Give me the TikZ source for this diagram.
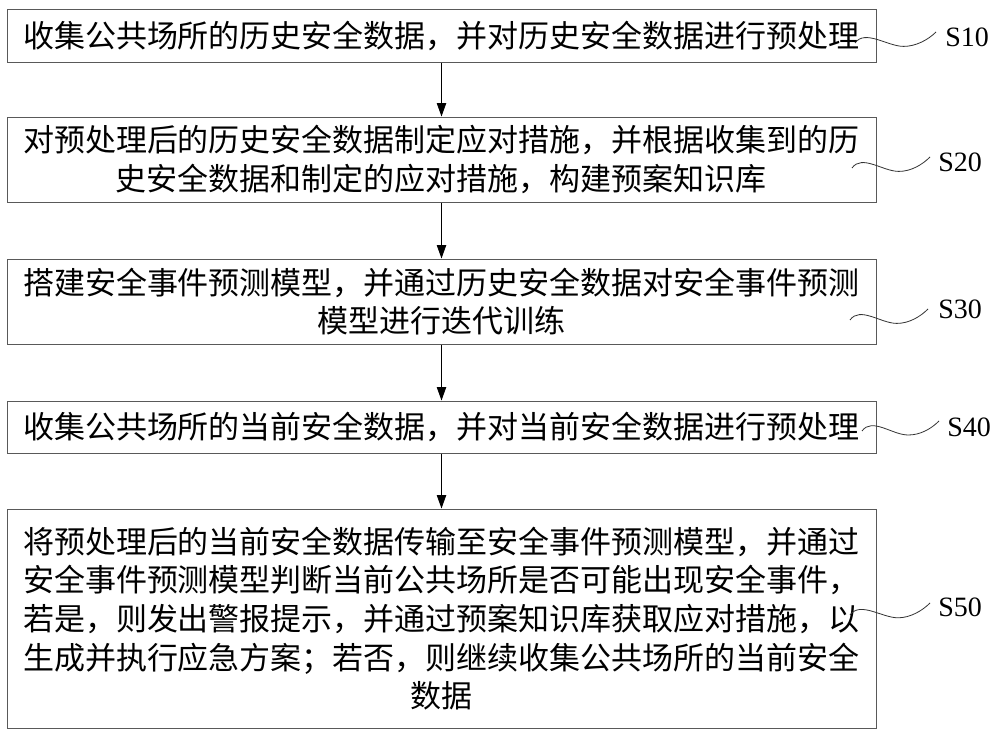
\documentclass[tikz,border=0pt]{standalone}
\usepackage{fontspec}
\setmainfont{Liberation Serif}
\newfontfamily\cjk{Noto Sans CJK SC}
\usetikzlibrary{arrows.meta,calc}
\newcommand{\squig}[2]{\draw[squigline] (#1) .. controls ($(#1)+(10,-14)$) and ($(#1)!0.6!(#2)+(-16,10)$) .. ($(#1)!0.6!(#2)+(0,10)$) .. controls ($(#1)!0.6!(#2)+(12,10)$) and ($(#2)+(-8,8)$) .. (#2);}
\begin{document}
\begin{tikzpicture}[x=0.75pt,y=-0.75pt,
  stepbox/.style={draw=black!65, line width=0.75pt, minimum width=651.75pt, inner sep=0pt,
    align=center, font=\cjk\fontsize{23.25pt}{29pt}\selectfont},
  lab/.style={anchor=west, inner sep=0pt, font=\fontsize{21pt}{24pt}\selectfont},
  arr/.style={draw=black, line width=0.6pt, -{Triangle[length=10pt,width=7pt]}},
  squigline/.style={draw=black!80, line width=0.6pt}]
\useasboundingbox (0,0) rectangle (1000,739);
\fill[white] (0,0) rectangle (1000,739);

\node[stepbox, minimum height=39.75pt] (b1) at (441.5,35.5) {收集公共场所的历史安全数据，并对历史安全数据进行预处理};
\node[stepbox, minimum height=63.75pt] (b2) at (441.5,159.5) {对预处理后的历史安全数据制定应对措施，并根据收集到的历\\史安全数据和制定的应对措施，构建预案知识库};
\node[stepbox, minimum height=63.75pt] (b3) at (441.5,301.5) {搭建安全事件预测模型，并通过历史安全数据对安全事件预测\\模型进行迭代训练};
\node[stepbox, minimum height=39pt] (b4) at (441.5,427) {收集公共场所的当前安全数据，并对当前安全数据进行预处理};
\node[stepbox, minimum height=164.25pt] (b5) at (441.5,618.5) {将预处理后的当前安全数据传输至安全事件预测模型，并通过\\安全事件预测模型判断当前公共场所是否可能出现安全事件，\\若是，则发出警报提示，并通过预案知识库获取应对措施，以\\生成并执行应急方案；若否，则继续收集公共场所的当前安全\\数据};

\draw[arr] (b1) -- (b2);
\draw[arr] (b2) -- (b3);
\draw[arr] (b3) -- (b4);
\draw[arr] (b4) -- (b5);

\node[lab] (l1) at (945,37) {S10};
\node[lab] (l2) at (938,162) {S20};
\node[lab] (l3) at (938,309) {S30};
\node[lab] (l4) at (947,427) {S40};
\node[lab] (l5) at (938,607) {S50};

\coordinate (s1) at (855,43);
\coordinate (e1) at (936,32);
\coordinate (s2) at (852,168);
\coordinate (e2) at (930,157);
\coordinate (s3) at (850,320);
\coordinate (e3) at (928,309);
\coordinate (s4) at (862,431);
\coordinate (e4) at (939,421);
\coordinate (s5) at (850,615);
\coordinate (e5) at (930,603);
\squig{s1}{e1}
\squig{s2}{e2}
\squig{s3}{e3}
\squig{s4}{e4}
\squig{s5}{e5}
\end{tikzpicture}
\end{document}
